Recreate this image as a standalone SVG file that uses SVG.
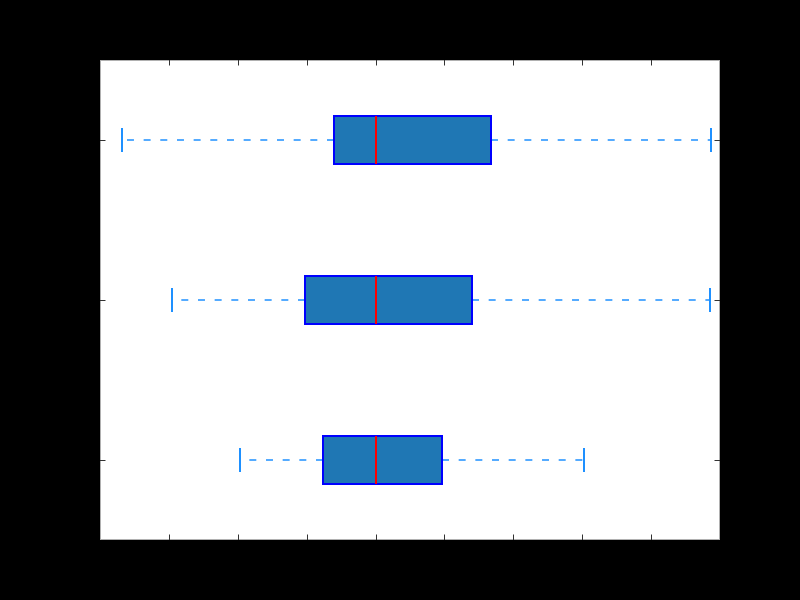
<svg xmlns="http://www.w3.org/2000/svg" width="800" height="600" viewBox="0 0 800 600">
<style>
.box{fill:#1f77b4;stroke:#0000ff;stroke-width:2}
.med{stroke:#ff0000;stroke-width:2}
.wh{stroke:#1e90ff;stroke-width:1.7;stroke-dasharray:7 9.67;fill:none}
.cap{stroke:#1e90ff;stroke-width:2}
.tick{stroke:#333333;stroke-width:1}
</style>
<rect x="0" y="0" width="800" height="600" fill="#000000"/>
<rect x="100.5" y="60.5" width="619" height="479" fill="#ffffff" stroke="#b0b0b0" stroke-width="1"/>
<g id="ticks">
<path class="tick" d="M169.5,540V534.5M238.5,540V534.5M307.5,540V534.5M376.5,540V534.5M444.5,540V534.5M513.5,540V534.5M582.5,540V534.5M651.5,540V534.5"/>
<path class="tick" d="M169.5,60V65.5M238.5,60V65.5M307.5,60V65.5M376.5,60V65.5M444.5,60V65.5M513.5,60V65.5M582.5,60V65.5M651.5,60V65.5"/>
<path class="tick" d="M100,140.5H105.5M100,300.5H105.5M100,460.5H105.5M720,140.5H714.5M720,300.5H714.5M720,460.5H714.5"/>
</g>
<g id="connectors">
<path class="wh" d="M334,140H122"/>
<path class="wh" d="M491,140H711"/>
<path class="wh" d="M305,300H172"/>
<path class="wh" d="M472,300H710"/>
<path class="wh" d="M323,460H240"/>
<path class="wh" d="M442,460H584"/>
</g>
<g id="box3">
<line class="cap" x1="122" y1="128" x2="122" y2="152"/>
<line class="cap" x1="711" y1="128" x2="711" y2="152"/>
<rect class="box" x="334" y="116" width="157" height="48"/>
<line class="med" x1="376" y1="116" x2="376" y2="164"/>
</g>
<g id="box2">
<line class="cap" x1="172" y1="288" x2="172" y2="312"/>
<line class="cap" x1="710" y1="288" x2="710" y2="312"/>
<rect class="box" x="305" y="276" width="167" height="48"/>
<line class="med" x1="376" y1="276" x2="376" y2="324"/>
</g>
<g id="box1">
<line class="cap" x1="240" y1="448" x2="240" y2="472"/>
<line class="cap" x1="584" y1="448" x2="584" y2="472"/>
<rect class="box" x="323" y="436" width="119" height="48"/>
<line class="med" x1="376" y1="436" x2="376" y2="484"/>
</g>
</svg>
